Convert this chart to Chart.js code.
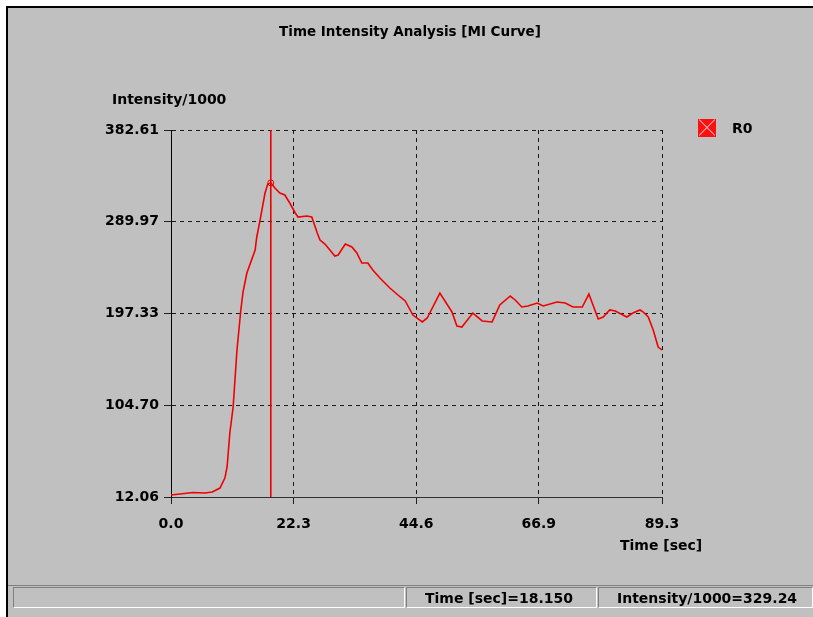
<!DOCTYPE html>
<html>
<head>
<meta charset="utf-8">
<script src="https://cdn.jsdelivr.net/npm/chart.js@4.4.1/dist/chart.umd.min.js"></script>
<style>
  html, body { margin: 0; padding: 0; background: #fff; }
  body { width: 813px; height: 617px; position: relative; overflow: hidden;
         font-family: "DejaVu Sans", sans-serif; font-weight: bold; color: #000; }
  #win { position: absolute; left: 6px; top: 6px; right: 0; bottom: 0;
         background: #c0c0c0; border-top: 2px solid #000; border-left: 2px solid #000; }
  canvas { position: absolute; left: 0; top: 0; }
  .lbl { position: absolute; font-size: 14px; line-height: 16px; white-space: nowrap; }
  #title { left: 410px; top: 23px; transform: translateX(-50%); font-size: 13.5px; }
  #ytitle { left: 112px; top: 91px; }
  #xtitle { left: 620px; top: 537px; }
  #legend { position: absolute; left: 698px; top: 119px; }
  #legend .box { position: absolute; left: 0; top: 0; width: 18px; height: 18px; background: #ff1010; }
  #legend .box:before, #legend .box:after { content: ""; position: absolute; left: -2px; top: 8px;
         width: 22px; height: 1px; background: #ffb0b0; transform: rotate(45deg); }
  #legend .box:after { transform: rotate(-45deg); }
  #legend .txt { position: absolute; left: 34px; top: 1px; font-size: 14px; line-height: 16px; }
  #status { position: absolute; left: 8px; top: 585px; right: 0; height: 1px; background: #808080; }
  .panel { position: absolute; top: 587px; height: 21px; box-sizing: border-box;
           border-top: 1px solid #808080; border-left: 1px solid #808080;
           border-bottom: 1px solid #fff; border-right: 1px solid #fff;
           font-size: 14px; line-height: 20px; white-space: nowrap; }
</style>
</head>
<body>
<div id="win"></div>
<canvas id="chart" width="813" height="617"></canvas>
<div class="lbl" id="title">Time Intensity Analysis [MI Curve]</div>
<div class="lbl" id="ytitle">Intensity/1000</div>
<div class="lbl" id="xtitle">Time [sec]</div>
<div id="legend"><div class="box"></div><div class="txt">R0</div></div>
<div id="status"></div>
<div class="panel" style="left:13px;width:392px;"></div>
<div class="panel" style="left:406px;width:191px;padding-left:18px;">Time [sec]=18.150</div>
<div class="panel" style="left:598px;width:215px;padding-left:18px;">Intensity/1000=329.24</div>
<script>
// time (s) and intensity/1000
const times = [0, 1.6, 4.0, 6.2, 7.5, 8.9, 9.8, 10.2, 10.7, 11.3, 12.0, 12.7, 13.1, 13.8,
  15.3, 15.6, 16.2, 17.1, 17.6, 18.15, 18.9, 19.8, 20.7, 21.6, 22.6, 23.1, 24.7, 25.6,
  26.6, 27.1, 28.0, 29.8, 30.4, 31.7, 32.9, 33.8, 34.7, 35.8, 36.7, 38.0, 39.8, 41.7,
  42.6, 44.0, 45.7, 46.6, 48.9, 51.1, 52.0, 52.9, 54.9, 56.6, 58.4, 59.8, 61.7, 62.6,
  63.8, 64.9, 66.6, 67.7, 70.2, 71.7, 73.1, 74.8, 76.0, 77.7, 78.6, 79.8, 80.8, 82.9,
  84.0, 85.3, 85.9, 86.8, 87.7, 88.6, 89.3];
const intensity = [14.1, 15.1, 16.6, 16.1, 17.1, 21.1, 31.2, 42.4, 76.7, 102.9, 160.5, 200.9,
  219.0, 238.2, 261.4, 274.6, 291.7, 319.0, 328.1, 329.24, 324.0, 319.0, 317.0, 308.9,
  298.8, 294.7, 295.7, 294.7, 278.6, 271.5, 267.5, 255.4, 256.4, 267.5, 264.5, 258.4,
  248.3, 248.3, 241.2, 233.2, 223.1, 214.0, 210.0, 195.8, 188.8, 192.8, 218.0, 198.9,
  184.7, 183.7, 197.8, 189.8, 188.8, 205.9, 215.0, 211.0, 203.9, 204.9, 207.9, 204.9,
  209.0, 207.9, 203.9, 203.9, 217.0, 191.8, 193.8, 200.9, 199.9, 193.8, 197.8, 200.9,
  198.8, 193.8, 180.7, 163.5, 160.5];

const xTicks = [0.0, 22.3, 44.6, 66.9, 89.3];
const xTickLabels = ['0.0', '22.3', '44.6', '66.9', '89.3'];
const yTicks = [12.06, 104.70, 197.33, 289.97, 382.61];
const yTickLabels = ['12.06', '104.70', '197.33', '289.97', '382.61'];

// cursor position shown in the status bar
const cursorTime = 18.15;
const cursorValue = 329.24;

const curve = times.map((t, i) => ({ x: t, y: intensity[i] }));
const tickFont = { family: 'DejaVu Sans', size: 14, weight: 'bold' };

new Chart(document.getElementById('chart'), {
  type: 'line',
  data: {
    datasets: [
      {
        data: curve,
        borderColor: '#f00000',
        borderWidth: 1.6,
        pointRadius: 0,
        tension: 0,
        fill: false,
      },
      {
        // cursor line
        data: [{ x: cursorTime, y: yTicks[0] }, { x: cursorTime, y: yTicks[yTicks.length - 1] }],
        borderColor: '#f00000',
        borderWidth: 1.6,
        pointRadius: 0,
        fill: false,
      },
      {
        // marker at the cursor
        data: [{ x: cursorTime, y: cursorValue }],
        showLine: false,
        pointStyle: 'circle',
        pointRadius: 3,
        borderColor: '#f00000',
        borderWidth: 1,
        backgroundColor: 'rgba(0,0,0,0)',
      },
    ],
  },
  options: {
    responsive: false,
    animation: false,
    events: [],
    layout: { padding: { left: 0, top: 130, right: 151, bottom: 0 } },
    plugins: { legend: { display: false }, tooltip: { enabled: false } },
    scales: {
      x: {
        type: 'linear',
        min: xTicks[0],
        max: xTicks[xTicks.length - 1],
        afterBuildTicks: s => { s.ticks = xTicks.map(v => ({ value: v })); },
        afterFit: s => { s.height = 120; },
        ticks: {
          autoSkip: false,
          maxRotation: 0,
          padding: 12,
          color: '#000',
          font: tickFont,
          callback: (v, i) => xTickLabels[i],
        },
        grid: {
          color: (c) => c.index === 0 ? 'rgba(0,0,0,0)' : '#181818',
          lineWidth: 1,
          tickLength: 7,
          tickColor: '#202020',
        },
        border: { display: true, color: '#303030', width: 1, dash: [4, 4] },
      },
      y: {
        type: 'linear',
        min: yTicks[0],
        max: yTicks[yTicks.length - 1],
        afterBuildTicks: s => { s.ticks = yTicks.map(v => ({ value: v })); },
        afterFit: s => { s.width = 171; },
        ticks: {
          autoSkip: false,
          padding: 5,
          color: '#000',
          font: tickFont,
          callback: (v, i) => yTickLabels[i],
        },
        grid: {
          color: (c) => c.index === 0 ? 'rgba(0,0,0,0)' : '#181818',
          lineWidth: 1,
          tickLength: 7,
          tickColor: '#202020',
        },
        border: { display: true, color: '#000', width: 1, dash: [4, 4] },
      },
    },
  },
});
</script>
</body>
</html>
